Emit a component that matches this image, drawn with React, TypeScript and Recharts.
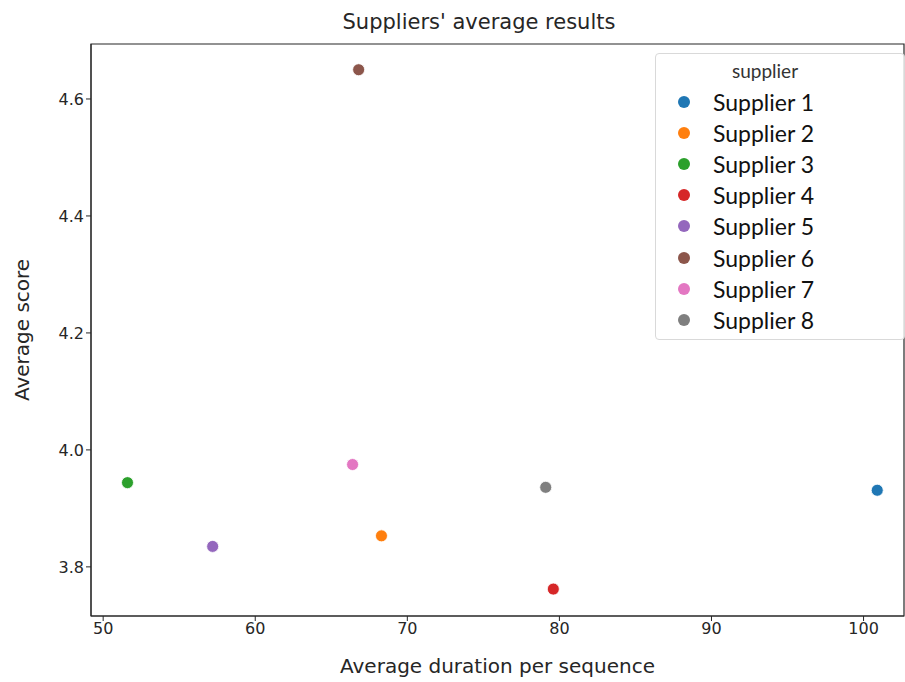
import React from "react";
import {
  ScatterChart,
  Scatter,
  XAxis,
  YAxis,
  ReferenceArea,
} from "recharts";

// one point per supplier
const suppliers = [
  "Supplier 1",
  "Supplier 2",
  "Supplier 3",
  "Supplier 4",
  "Supplier 5",
  "Supplier 6",
  "Supplier 7",
  "Supplier 8",
];
const durations = [100.9, 68.3, 51.6, 79.6, 57.2, 66.8, 66.4, 79.1];
const scores = [3.931, 3.853, 3.944, 3.762, 3.835, 4.65, 3.975, 3.936];
const colors = [
  "#1f77b4",
  "#ff7f0e",
  "#2ca02c",
  "#d62728",
  "#9467bd",
  "#8c564b",
  "#e377c2",
  "#7f7f7f",
];
const xTicks = [50, 60, 70, 80, 90, 100];
const yTicks = [3.8, 4.0, 4.2, 4.4, 4.6];

const xDomain: [number, number] = [49.2, 102.66];
const yDomain: [number, number] = [3.716, 4.694];

const axisFont = "'DejaVu Sans', sans-serif";
const textColor = "#262626";

const Dot = (props: any) => {
  const { cx, cy, fill } = props;
  return <circle cx={cx} cy={cy} r={6} fill={fill} stroke="#fff" strokeWidth={0.8} />;
};

export default function App() {
  return (
    <div style={{ position: "relative", width: 905, height: 682, background: "#fff" }}>
      <style>{"body{margin:0}"}</style>
      <div
        style={{
          position: "absolute",
          top: 9,
          left: 0,
          width: 905,
          textAlign: "center",
          paddingLeft: 53,
          boxSizing: "border-box",
          fontFamily: axisFont,
          fontSize: 21,
          color: textColor,
          lineHeight: "26px",
        }}
      >
        Suppliers' average results
      </div>
      <ScatterChart
        width={905}
        height={682}
        margin={{ top: 44, right: 1, bottom: 0, left: 0 }}
      >
        <XAxis
          type="number"
          dataKey="x"
          domain={xDomain}
          ticks={xTicks}
          allowDataOverflow
          height={66}
          stroke={textColor}
          tickSize={5}
          tick={{ fontSize: 16, fontFamily: axisFont, fill: textColor }}
          label={{
            value: "Average duration per sequence",
            position: "insideBottom",
            offset: 9,
            fontSize: 20,
            fontFamily: axisFont,
            fill: textColor,
          }}
        />
        <YAxis
          type="number"
          dataKey="y"
          domain={yDomain}
          ticks={yTicks}
          allowDataOverflow
          width={91}
          stroke={textColor}
          tickSize={5}
          tickFormatter={(v: number) => v.toFixed(1)}
          tick={{ fontSize: 16, fontFamily: axisFont, fill: textColor }}
          label={{
            value: "Average score",
            angle: -90,
            position: "insideLeft",
            offset: 22,
            style: { textAnchor: "middle" },
            fontSize: 20,
            fontFamily: axisFont,
            fill: textColor,
          }}
        />
        <ReferenceArea
          x1={xDomain[0]}
          x2={xDomain[1]}
          y1={yDomain[0]}
          y2={yDomain[1]}
          fill="none"
          stroke={textColor}
          strokeWidth={1.2}
        />
        {suppliers.map((name, i) => (
          <Scatter
            key={name}
            name={name}
            data={[{ x: durations[i], y: scores[i] }]}
            fill={colors[i]}
            shape={Dot}
            isAnimationActive={false}
          />
        ))}
      </ScatterChart>
      <div
        style={{
          position: "absolute",
          left: 655,
          top: 53,
          width: 248,
          height: 285,
          border: "1px solid #d9d9d9",
          borderRadius: 4,
          background: "rgba(255,255,255,0.8)",
          fontFamily: "Lato, sans-serif",
          color: "#111",
        }}
      >
        <div style={{ textAlign: "center", fontSize: 19, marginTop: 5, marginLeft: -30, height: 27, color: "#333" }}>
          supplier
        </div>
        {suppliers.map((name, i) => (
          <div key={name} style={{ display: "flex", alignItems: "center", height: 31.2 }}>
            <span
              style={{
                display: "inline-block",
                width: 12,
                height: 12,
                borderRadius: 6,
                background: colors[i],
                marginLeft: 22,
                marginRight: 23,
              }}
            />
            <span style={{ fontSize: 23 }}>{name}</span>
          </div>
        ))}
      </div>
    </div>
  );
}
